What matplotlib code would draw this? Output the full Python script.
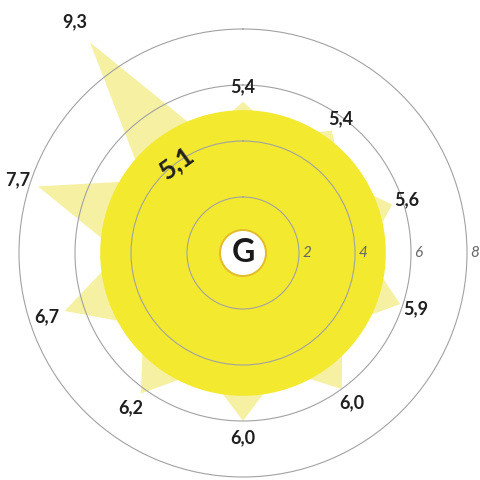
import numpy as np
import matplotlib.pyplot as plt

# 数据：从正上方开始顺时针
values = [5.4, 5.4, 5.6, 5.9, 6.0, 6.0, 6.2, 6.7, 7.7, 9.3]
labels = ['5,4', '5,4', '5,6', '5,9', '6,0', '6,0', '6,2', '6,7', '7,7', '9,3']
avg = 5.1
avg_label = '5,1'
valley = 4.4
rings = [2, 4, 6, 8]
ring_labels = ['2', '4', '6', '8']
center_text = 'G'

plt.rcParams['font.family'] = ['Lato', 'DejaVu Sans']

fig = plt.figure(figsize=(4.8, 4.8), dpi=100)
rmax = 9.6
w = 2 * rmax * 28 / 480
cx, cy = 243 / 480, 1 - 253 / 480
ax = fig.add_axes([cx - w / 2, cy - w / 2, w, w], projection='polar')
ax.set_theta_zero_location('N')
ax.set_theta_direction(-1)
ax.set_rlim(0, rmax)
ax.spines['polar'].set_visible(False)
ax.set_xticks([])
ax.set_yticks(rings)
ax.set_yticklabels([])
ax.tick_params(axis='y', length=0)
ax.set_axisbelow(False)
ax.yaxis.grid(True, color='#a2a2a2', linewidth=0.8)
ax.patch.set_alpha(0)

# 星形（尖角 + 谷）
n = len(values)
ang = np.deg2rad(np.arange(n) * 360 / n)
star_t, star_r = [], []
for i in range(n):
    star_t += [ang[i], ang[i] + np.pi / n]
    star_r += [values[i], valley]
ax.fill(star_t, star_r, color='#F6F0A2', zorder=1, linewidth=0)

# 平均值圆
t = np.linspace(0, 2 * np.pi, 300)
ax.fill(t, np.full_like(t, avg), color='#F3E92E', zorder=2, linewidth=0)

# 中心圆
ax.fill(t, np.full_like(t, 0.82), facecolor='white', edgecolor='#E2BC2A', linewidth=1.4, zorder=5)
ax.text(0, 0, center_text, ha='center', va='center', fontsize=23, fontweight='bold', color='#1a1a1a', zorder=6)

# 数值标签
for a, v, s in zip(ang, values, labels):
    ax.text(a, v * 1.1, s, ha='center', va='center', fontsize=13, fontweight='bold', color='#1f1f1f')

ax.text(np.deg2rad(-36), 4.0, avg_label, ha='center', va='center', fontsize=19, fontweight='bold',
        color='#1f1f1f', rotation=36, zorder=6)

# 刻度标签
for r, s in zip(rings, ring_labels):
    ax.text(np.pi / 2, r + 0.12, s, ha='left', va='center', fontsize=11, style='italic', color='#666666', zorder=6)

fig.savefig('out.png', dpi=100)
